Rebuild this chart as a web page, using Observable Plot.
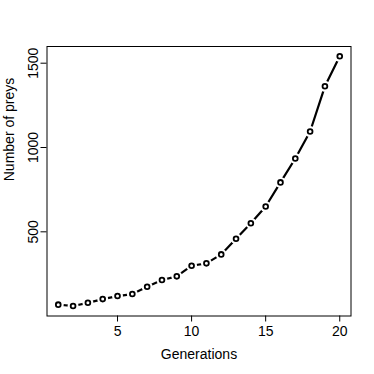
<!DOCTYPE html>
<html>
<head>
<meta charset="utf-8">
<script src="https://cdn.jsdelivr.net/npm/d3@7"></script>
<script src="https://cdn.jsdelivr.net/npm/@observablehq/plot@0.6"></script>
<style>
  html, body { margin: 0; padding: 0; background: white; }
</style>
</head>
<body>
<div id="chart"></div>
<script>
const generations = [1, 2, 3, 4, 5, 6, 7, 8, 9, 10, 11, 12, 13, 14, 15, 16, 17, 18, 19, 20];
const preys = [68, 60, 79, 101, 119, 131, 174, 214, 236, 299, 313, 366, 459, 551, 650, 793, 935, 1095, 1363, 1541];
const xTicks = [5, 10, 15, 20];
const yTicks = [500, 1000, 1500];
const xLabel = "Generations";
const yLabel = "Number of preys";

const data = generations.map((g, i) => ({g, n: preys[i]}));

const font = "'Liberation Sans', Arial, Helvetica, sans-serif";

const chart = Plot.plot({
  width: 374,
  height: 374,
  marginLeft: 46.5,
  marginRight: 23.5,
  marginTop: 46,
  marginBottom: 58.5,
  style: {fontFamily: font, fontSize: "14px", background: "white", color: "black", overflow: "visible"},
  x: {domain: [0.24, 20.76]},
  y: {domain: [0.8, 1599]},
  marks: [
    Plot.frame({stroke: "black", strokeWidth: 1}),
    Plot.axisX(xTicks, {tickSize: 6, tickPadding: 4, fontSize: 14, label: null, tickFormat: d => String(d), stroke: "black", fill: "black"}),
    Plot.axisY(yTicks, {tickSize: 6, tickFormat: () => "", label: null, stroke: "black"}),
    Plot.text(yTicks, {y: d => d, text: d => String(d), frameAnchor: "left", dx: -9.5, rotate: -90, lineAnchor: "bottom", textAnchor: "middle", fontSize: 14, fill: "black"}),
    Plot.line(data, {x: "g", y: "n", stroke: "black", strokeWidth: 2.2}),
    Plot.dot(data, {x: "g", y: "n", r: 5.5, fill: "white", stroke: null}),
    Plot.dot(data, {x: "g", y: "n", r: 2.4, fill: "none", stroke: "black", strokeWidth: 1.8}),
    Plot.text([xLabel], {frameAnchor: "bottom", dy: 43, lineAnchor: "bottom", fontSize: 14, fill: "black"}),
    Plot.text([yLabel], {frameAnchor: "left", dx: -33.5, rotate: -90, lineAnchor: "bottom", fontSize: 14, fill: "black"})
  ]
});
document.getElementById("chart").appendChild(chart);
</script>
</body>
</html>
